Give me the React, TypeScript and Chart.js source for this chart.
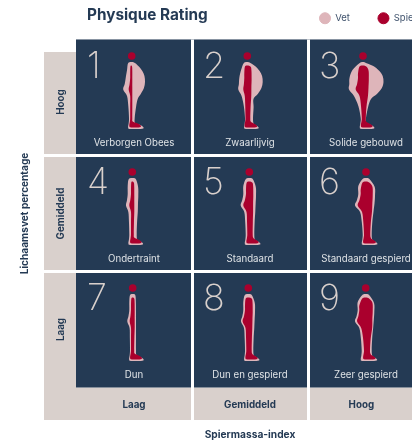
import React, { useEffect, useRef } from "react";
import { Chart, registerables } from "chart.js";

Chart.register(...registerables);

const bmiLabels = ["Laag", "Gemiddeld", "Hoog"];
const fatLabels = ["Hoog", "Gemiddeld", "Laag"];
const ratingNames = [
  "Verborgen Obees", "Zwaarlijvig", "Solide gebouwd",
  "Ondertraint", "Standaard", "Standaard gespierd",
  "Dun", "Dun en gespierd", "Zeer gespierd",
];
const figureShift = [-2.3, -2.7, -3, -1.7, -0.7, 0, -1.3, -1.7, -0.3];

const vetBack = [-6, -8, -13.5, -4.6, -6, -7.7, -3.4, -5, -8];
const vetBump = [-8.5, -9, -14, -6.3, -8.6, -11, -5.4, -7.3, -10.7];
const vetFront = [13.3, 15.4, 20.5, 6, 6.7, 9, 3.3, 6.7, 8.6];
const vetWaist = [7.5, 7.7, 10, 5.5, 6, 7.5, 3.3, 6, 7.5];
const vetLegBack = [-2.7, -2.3, -2.3, -3, -3.6, -3.3, -2.7, -3.3, -4];
const vetLegFront = [3, 5.7, 3, 4.4, 5, 5.7, 3.3, 5, 6];
const vetToe = [11.5, 11, 11, 10.4, 10.7, 11, 10.6, 10.7, 11];

const spierBack = [-1.5, -3, -5, -1.3, -3.3, -5.3, -1.7, -3.3, -6.4];
const spierBump = [-3, -4, -7.3, -3, -6, -8.3, -3, -5.7, -8.6];
const spierFront = [0.6, 4.3, 5.8, 2, 4, 6.7, 2, 4.4, 7];
const spierWaist = [0.6, 4, 5, 2, 3.8, 6, 2, 4, 6.5];
const spierLegBack = [-1.5, -1.8, -1.2, -1.3, -2, -2, -1.7, -2, -1.7];
const spierLegFront = [0.6, 3, 2.8, 1.5, 3.4, 4.3, 1.5, 3.4, 4.3];
const spierToe = [9, 9.5, 9.3, 9, 9, 9.5, 9, 9, 9.5];

const NAVY = "#243a54";
const BAND = "#d9d0cc";
const VET = "#deb5ba";
const SPIER = "#aa002d";
const FONT = "Inter";
const TICK_SIZE = 9.8;

const cellData = ratingNames.map((_, i) => ({
  x: bmiLabels[i % 3],
  y: fatLabels[Math.floor(i / 3)],
}));

function spline(ctx: CanvasRenderingContext2D, pts: number[][], ox: number, oy: number) {
  const n = pts.length;
  ctx.beginPath();
  ctx.moveTo(ox + pts[0][0], oy + pts[0][1]);
  for (let i = 0; i < n; i++) {
    const p0 = pts[(i - 1 + n) % n];
    const p1 = pts[i];
    const p2 = pts[(i + 1) % n];
    const p3 = pts[(i + 2) % n];
    ctx.bezierCurveTo(
      ox + p1[0] + (p2[0] - p0[0]) / 6, oy + p1[1] + (p2[1] - p0[1]) / 6,
      ox + p2[0] - (p3[0] - p1[0]) / 6, oy + p2[1] - (p3[1] - p1[1]) / 6,
      ox + p2[0], oy + p2[1],
    );
  }
  ctx.closePath();
  ctx.fill();
}

function body(
  ctx: CanvasRenderingContext2D, ox: number, oy: number, top: number, bottom: number,
  back: number, bump: number, front: number, waist: number, legB: number, legF: number, toe: number,
) {
  const thigh = legB + (back - legB) * 0.6;
  const mid = Math.min((back + front) / 2, 0);
  const cap = Math.min(front - mid, 4.5);
  const bulky = front > 10;
  const frontSide = bulky
    ? [[front * 0.5, 10], [front * 0.8, 15], [front * 0.96, 20], [front, 26], [front * 0.92, 32], [front * 0.68, 38], [waist * 0.8, 43]]
    : [[front * 0.97, 15], [front, 24], [Math.max(front * 0.95, waist), 31], [waist, 39.5]];
  spline(ctx, [
    [mid, top],
    [mid + cap * 0.8, top + 1.2],
    ...frontSide,
    [waist * 0.3 + legF * 0.7, 51],
    [legF, 62],
    [legF + 0.4, bottom - 6],
    [toe - 3.5, bottom - 4.2],
    [toe, bottom - 2],
    [toe - 1, bottom - 0.3],
    [legB + 1, bottom],
    [legB - 0.9, bottom - 1.5],
    [legB - 0.3, bottom - 6],
    [legB, 62],
    [legB * 0.65 + thigh * 0.35, 50],
    [thigh, 40],
    [bump, 33.5],
    [back * 0.6 + bump * 0.4, 28],
    [back, 22],
    [bulky || back < -10 ? back * 0.78 : back, top + 8],
    [mid - Math.min(mid - back, 4.5) * 0.8, top + 1.2],
  ], ox, oy);
}

const figurePlugin = {
  id: "figures",
  beforeLayout(chart: any) {
    const lg = chart.legend;
    if (lg && !lg.__wrapped) {
      const fit = lg.fit.bind(lg);
      lg.fit = () => { fit(); lg.height = 0; };
      lg.__wrapped = true;
    }
  },
  afterLayout(chart: any) {
    const lg = chart.legend;
    lg.left = 291.5; lg.right = 700; lg.top = -14.5; lg.bottom = 36;
    chart.titleBlock.left = 87;
    chart.titleBlock.right = 300;
    // the plot runs past the right edge of the window, as in the source picture
    const s = chart.scales.x;
    s.right = 424;
    s.width = 348;
    s.configure();
    chart.chartArea.right = 424;
    chart.chartArea.width = 348;
  },
  beforeDraw(chart: any) {
    const { ctx, chartArea: a } = chart;
    ctx.save();
    ctx.fillStyle = BAND;
    ctx.fillRect(44, 52, a.left - 44, 420 - 52);
    ctx.fillRect(a.left, a.bottom, a.right - a.left, 420 - a.bottom);
    ctx.fillStyle = NAVY;
    ctx.fillRect(a.left, a.top, a.right - a.left, a.bottom - a.top);
    ctx.restore();
  },
  afterDatasetsDraw(chart: any) {
    const { ctx } = chart;
    const vet = chart.getDatasetMeta(0).data;
    const spier = chart.getDatasetMeta(1).data;
    ctx.save();
    ratingNames.forEach((name, i) => {
      const cx = vet[i].x;
      const cy = vet[i].y;
      const ox = cx + figureShift[i];
      const oy = cy - 41.5;
      ctx.fillStyle = VET;
      body(ctx, ox, oy, 6, 73, vetBack[i], vetBump[i], vetFront[i], vetWaist[i], vetLegBack[i], vetLegFront[i], vetToe[i]);
      ctx.fillStyle = SPIER;
      body(ctx, spier[i].x + figureShift[i], oy, 9.5, 71.5, spierBack[i], spierBump[i], spierFront[i], spierWaist[i], spierLegBack[i], spierLegFront[i], spierToe[i]);
      ctx.beginPath();
      ctx.arc(ox, oy, 3.8, 0, Math.PI * 2);
      ctx.fill();

      ctx.textBaseline = "middle";
      ctx.textAlign = "center";
      ctx.fillStyle = "#dfe3e6";
      ctx.font = `400 9.7px ${FONT}`;
      ctx.fillText(name, cx, cy + 45.3);

      ctx.textAlign = "left";
      ctx.textBaseline = "alphabetic";
      ctx.fillStyle = BAND;
      ctx.font = `200 36px ${FONT}`;
      ctx.fillText(String(i + 1), cx - 47, cy - 19.5);
    });
    ctx.restore();
  },
};

const gridColor = (c: any) => (c.index === 1 || c.index === 2 ? "#ffffff" : "rgba(0,0,0,0)");

export default function App() {
  const ref = useRef<HTMLCanvasElement>(null);
  useEffect(() => {
    document.body.style.margin = "0";
    const chart = new Chart(ref.current as HTMLCanvasElement, {
      type: "scatter",
      plugins: [figurePlugin],
      data: {
        datasets: [
          { label: "Vet", data: cellData, backgroundColor: VET, borderColor: VET, pointRadius: 0, pointStyle: "circle" },
          { label: "Spiermassa", data: cellData, backgroundColor: SPIER, borderColor: SPIER, pointRadius: 0, pointStyle: "circle" },
        ] as any,
      },
      options: {
        animation: false,
        responsive: false,
        layout: { padding: 0, autoPadding: false },
        plugins: {
          tooltip: { enabled: false },
          title: {
            display: true,
            text: "Physique Rating",
            align: "start",
            color: NAVY,
            font: { family: FONT, size: 15.3, weight: "bold", lineHeight: 1.2 },
            padding: { top: 6.3, bottom: 14.8 },
          },
          legend: {
            display: true,
            position: "top",
            align: "start",
            labels: {
              usePointStyle: true,
              pointStyleWidth: 11,
              boxHeight: 7.78,
              padding: 28,
              color: "#3f526c",
              font: { family: FONT, size: 9.5 },
            },
          },
        },
        scales: {
          x: {
            type: "category",
            labels: bmiLabels,
            offset: true,
            afterFit: (s: any) => { s.height = 53.5; },
            grid: { color: gridColor, lineWidth: 3, tickLength: 32.5, offset: true, z: 0 },
            border: { display: false },
            ticks: {
              color: NAVY,
              font: { family: FONT, size: TICK_SIZE, weight: "bold" },
              padding: -21,
              maxRotation: 0,
              callback: (_v: any, i: number) => (i === 2 ? bmiLabels[i] + "\u00a0\u00a0\u00a0\u00a0" : bmiLabels[i]),
            },
            title: {
              display: true,
              text: "Spiermassa-index",
              color: NAVY,
              font: { family: FONT, size: 10.2, weight: "bold", lineHeight: 1.2 },
              padding: { top: 0, bottom: 0 },
            },
          },
          y: {
            type: "category",
            labels: fatLabels,
            offset: true,
            afterFit: (s: any) => { s.width = 76; },
            grid: { color: gridColor, lineWidth: 3, tickLength: 32, offset: true, z: 0 },
            border: { display: false },
            ticks: {
              color: NAVY,
              font: { family: FONT, size: TICK_SIZE, weight: "bold" },
              minRotation: 90,
              maxRotation: 90,
              crossAlign: "center",
              padding: -43,
              callback: (_v: any, i: number) => (i === 0 ? fatLabels[i] + "\u00a0\u00a0\u00a0\u00a0" : fatLabels[i]),
            },
            title: {
              display: true,
              text: "Lichaamsvet percentage",
              color: NAVY,
              font: { family: FONT, size: 10.1, weight: "bold", lineHeight: 1.2 },
              padding: { top: 19, bottom: 0 },
            },
          },
        },
      } as any,
    });
    return () => chart.destroy();
  }, []);
  return (
    <div style={{ width: 412, height: 441 }}>
      <canvas ref={ref} width={412} height={441} style={{ display: "block" }} />
    </div>
  );
}
